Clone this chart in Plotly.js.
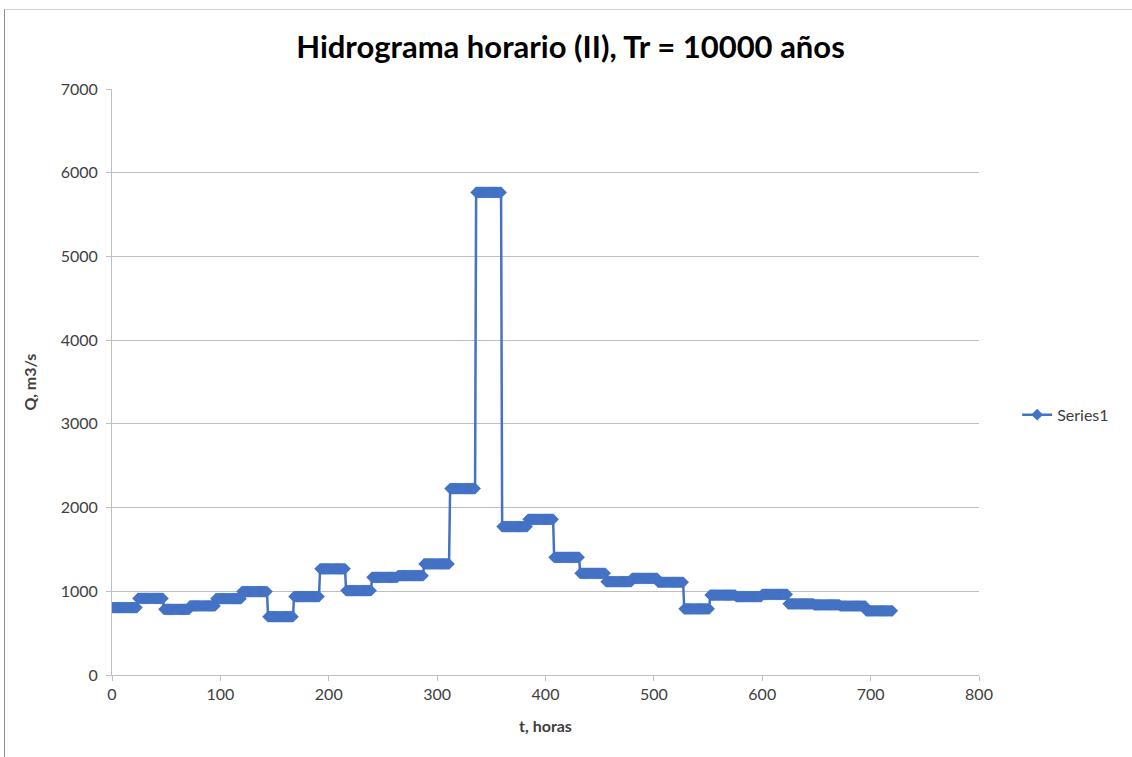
<!DOCTYPE html>
<html>
<head>
<meta charset="utf-8">
<script src="https://cdn.plot.ly/plotly-3.0.1.min.js"></script>
<style>
  html, body { margin: 0; padding: 0; background: #fff; }
  #chart { width: 1132px; height: 757px; }
  #frame { position: absolute; left: 4px; top: 9px; width: 1200px; height: 800px;
           border-left: 1px solid #8c8c8c; border-top: 1px solid #d0d0d0; pointer-events: none; }
</style>
</head>
<body>
<div id="chart"></div>
<div id="frame"></div>
<script>
// Daily step values of the hourly hydrograph (m3/s), one per 24-hour block
const dailyQ = [805, 915, 785, 825, 912, 997, 697, 937, 1268, 1008,
                1167, 1187, 1327, 2227, 5765, 1773, 1860, 1406, 1215, 1115,
                1155, 1108, 790, 955, 937, 963, 850, 838, 824, 767];
const hoursPerDay = 24;
const totalHours = 720;
const xTicks = [0, 100, 200, 300, 400, 500, 600, 700, 800];
const yTicks = [0, 1000, 2000, 3000, 4000, 5000, 6000, 7000];

// hourly series: each hour carries its day's value
const t = [], q = [];
for (let h = 0; h <= totalHours; h++) {
  t.push(h);
  q.push(dailyQ[Math.min(Math.floor(h / hoursPerDay), dailyQ.length - 1)]);
}

const font = 'Lato, "Open Sans", "Liberation Sans", sans-serif';
const blue = '#4472c4';

Plotly.newPlot('chart', [{
  x: t, y: q, type: 'scatter', mode: 'lines+markers', name: 'Series1',
  line: { color: blue, width: 2.5 },
  marker: { symbol: 'diamond', size: 9, color: blue, line: { width: 0 } }
}], {
  width: 1132, height: 757,
  margin: { l: 112, r: 153, t: 89, b: 82 },
  paper_bgcolor: '#fff', plot_bgcolor: '#fff',
  font: { family: font, color: '#595959', size: 16 },
  title: { text: '<b>Hidrograma horario (II), Tr = 10000 años</b>',
           font: { family: font, size: 31, color: '#000' },
           x: 0.504, xanchor: 'center', y: 0.938, yanchor: 'middle' },
  xaxis: {
    range: [0, 800], tickvals: xTicks, ticktext: xTicks.map(String),
    showgrid: false, zeroline: false, showline: true, linecolor: '#bfbfbf', linewidth: 1,
    ticks: 'outside', ticklen: 5, tickcolor: '#bfbfbf',
    tickfont: { family: font, size: 16, color: '#404040' },
    title: { text: '<b>t, horas</b>', font: { family: font, size: 16, color: '#404040' }, standoff: 18 }
  },
  yaxis: {
    range: [0, 7000], tickvals: yTicks, ticktext: yTicks.map(String),
    showgrid: true, gridcolor: '#bfbfbf', gridwidth: 1, zeroline: false,
    showline: true, linecolor: '#bfbfbf', linewidth: 1,
    ticks: 'outside', ticklen: 5, tickcolor: '#bfbfbf', ticklabelstandoff: 5,
    tickfont: { family: font, size: 16, color: '#404040' },
    title: { text: '<b>Q, m3/s</b>', font: { family: font, size: 16, color: '#404040' }, standoff: 20 }
  },
  showlegend: true,
  legend: { x: 1.044, y: 0.444, xanchor: 'left', yanchor: 'middle',
            font: { family: font, size: 16, color: '#404040' }, bgcolor: 'rgba(0,0,0,0)' }
}, { displayModeBar: false, staticPlot: true });
</script>
</body>
</html>
